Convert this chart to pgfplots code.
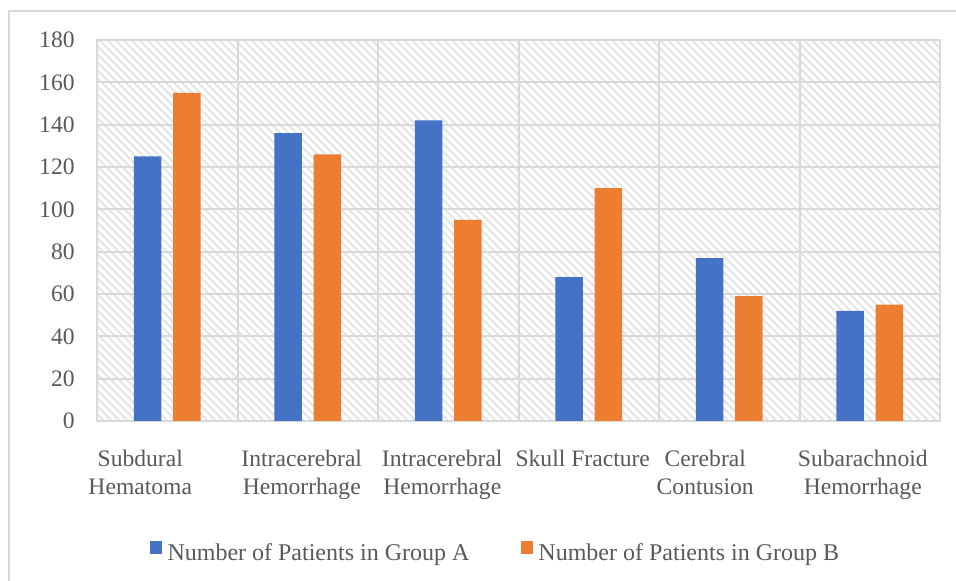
\documentclass[border=0pt]{standalone}
\usepackage{pgfplots}
\pgfplotsset{compat=1.18}
\usepackage{fontspec}
\setmainfont{Liberation Serif}
\usetikzlibrary{patterns.meta}
\definecolor{barA}{HTML}{4472C4}
\definecolor{barB}{HTML}{ED7D31}
\definecolor{gridgray}{HTML}{D9D9D9}
\definecolor{hatchgray}{HTML}{E2E2E2}
\definecolor{txtgray}{HTML}{595959}
\newcommand\tlab[2]{\kern#1\kern#1\begin{tabular}{@{}c@{}}#2\end{tabular}}
\begin{document}
\begin{tikzpicture}
\path[use as bounding box] (0pt,0pt) rectangle (478pt,290.5pt);
\draw[gridgray, line width=1.2pt] (4.6pt,-2pt) -- (4.6pt,285pt) -- (480pt,285pt);
\begin{axis}[
  at={(48.5pt,80pt)}, anchor=south west,
  scale only axis, width=421.5pt, height=190.5pt,
  ymin=0, ymax=180, ytick={0,20,...,180},
  xmin=-0.5, xmax=5.5,
  xtick={0,...,5},
  minor xtick={0.5,1.5,...,4.5},
  xticklabels={
    {\tlab{-13.5pt}{Subdural\\Hematoma}},
    {\tlab{-3pt}{Intracerebral\\Hemorrhage}},
    {\tlab{-3pt}{Intracerebral\\Hemorrhage}},
    {\tlab{-3pt}{Skull Fracture}},
    {\tlab{-12pt}{Cerebral\\Contusion}},
    {\tlab{-3.5pt}{Subarachnoid\\Hemorrhage}}},
  ymajorgrids, xminorgrids,
  grid style={gridgray, line width=1pt},
  minor grid style={gridgray, line width=1pt},
  axis line style={gridgray, line width=1pt},
  major tick length=0pt, minor tick length=0pt,
  tick style={draw=none},
  /pgf/number format/assume math mode=true,
  tick label style={font=\fontsize{11.8}{14}\selectfont, text=txtgray},
  yticklabel style={anchor=east, inner sep=0pt, xshift=-11pt},
  xticklabel style={anchor=north, inner sep=0pt, yshift=-13pt},
  axis background/.style={fill=white, postaction={pattern={Lines[angle=-45,distance=2.83pt,line width=0.9pt]}, pattern color=hatchgray}},
  ybar, bar width=0.196,
  legend columns=2,
  legend style={at={(0.4745,-0.348)}, anchor=center, draw=none, fill=none,
    font=\fontsize{12}{14}\selectfont, text=txtgray,
    nodes={inner xsep=2.6pt},
    /tikz/every even column/.append style={column sep=23pt}},
  legend image code/.code={\fill[#1, draw=none] (0pt,0pt) rectangle (6.3pt,6.3pt);},
]
\addplot[fill=barA, draw=none, bar shift=-0.14] coordinates {(0,125) (1,136) (2,142) (3,68) (4,77) (5,52)};
\addplot[fill=barB, draw=none, bar shift=0.14] coordinates {(0,155) (1,126) (2,95) (3,110) (4,59) (5,55)};
\legend{Number of Patients in Group A, Number of Patients in Group B}
\end{axis}
\end{tikzpicture}
\end{document}
